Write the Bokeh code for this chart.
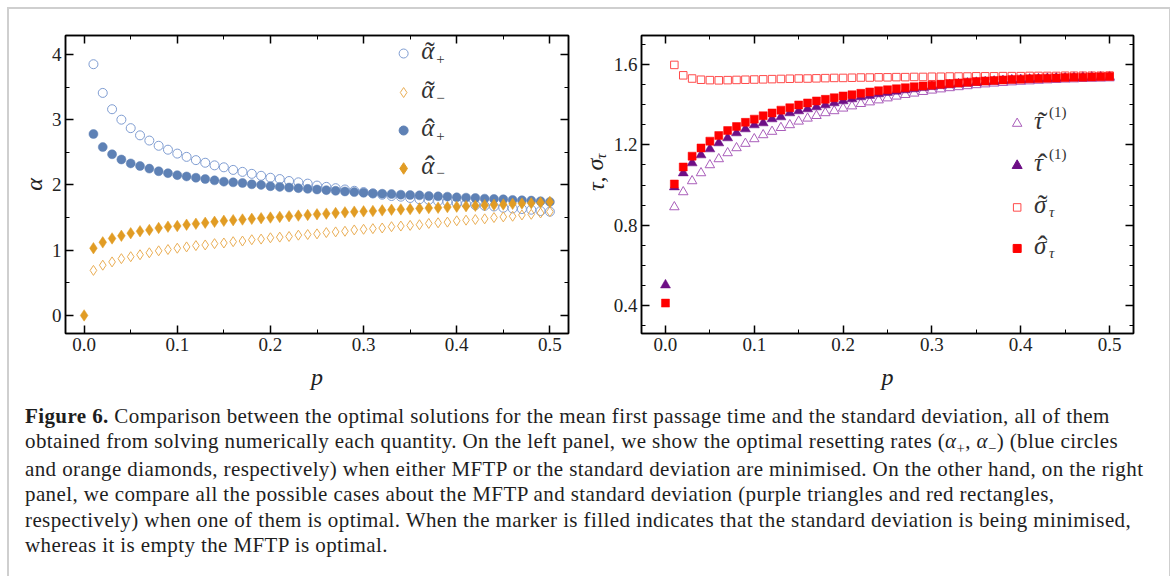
from bokeh.plotting import figure
from bokeh.models import (LinearAxis, FixedTicker, Label, Div, Range1d,
                          CustomJSTickFormatter)
from bokeh.layouts import column, row
from bokeh.embed import file_html
from bokeh.resources import INLINE

# ---------------- data ----------------
P0 = [0.00]
P = [0.01, 0.02, 0.03, 0.04, 0.05, 0.06, 0.07, 0.08, 0.09, 0.10,
     0.11, 0.12, 0.13, 0.14, 0.15, 0.16, 0.17, 0.18, 0.19, 0.20,
     0.21, 0.22, 0.23, 0.24, 0.25, 0.26, 0.27, 0.28, 0.29, 0.30,
     0.31, 0.32, 0.33, 0.34, 0.35, 0.36, 0.37, 0.38, 0.39, 0.40,
     0.41, 0.42, 0.43, 0.44, 0.45, 0.46, 0.47, 0.48, 0.49, 0.50]

# left panel
alpha_plus_tilde = [3.85, 3.41, 3.16, 3.00, 2.87, 2.76, 2.68, 2.60, 2.54, 2.48,
                    2.43, 2.38, 2.34, 2.30, 2.27, 2.23, 2.20, 2.17, 2.14, 2.11,
                    2.09, 2.06, 2.04, 2.02, 1.99, 1.97, 1.95, 1.93, 1.91, 1.89,
                    1.87, 1.85, 1.83, 1.82, 1.80, 1.78, 1.77, 1.75, 1.74, 1.72,
                    1.71, 1.69, 1.68, 1.67, 1.65, 1.64, 1.63, 1.62, 1.60, 1.59]
alpha_minus_tilde = [0.69, 0.77, 0.82, 0.87, 0.90, 0.93, 0.96, 0.99, 1.01, 1.03,
                     1.05, 1.07, 1.08, 1.10, 1.11, 1.13, 1.14, 1.16, 1.17, 1.19,
                     1.20, 1.21, 1.23, 1.24, 1.25, 1.27, 1.28, 1.29, 1.31, 1.32,
                     1.33, 1.34, 1.36, 1.37, 1.38, 1.39, 1.41, 1.42, 1.43, 1.45,
                     1.46, 1.47, 1.48, 1.50, 1.51, 1.52, 1.54, 1.55, 1.57, 1.59]
alpha_plus_hat = [2.78, 2.58, 2.47, 2.39, 2.33, 2.29, 2.25, 2.21, 2.18, 2.15,
                  2.13, 2.11, 2.09, 2.07, 2.05, 2.04, 2.03, 2.01, 2.00, 1.98,
                  1.97, 1.96, 1.95, 1.94, 1.93, 1.92, 1.91, 1.90, 1.89, 1.88,
                  1.87, 1.865, 1.86, 1.85, 1.845, 1.84, 1.83, 1.825, 1.82, 1.81,
                  1.805, 1.80, 1.79, 1.785, 1.78, 1.77, 1.765, 1.76, 1.75, 1.74]
alpha_minus_hat_p0 = [0.0]
alpha_minus_hat = [1.03, 1.12, 1.18, 1.22, 1.26, 1.29, 1.31, 1.34, 1.36, 1.37,
                   1.39, 1.405, 1.42, 1.435, 1.45, 1.46, 1.47, 1.48, 1.49, 1.50,
                   1.51, 1.52, 1.53, 1.54, 1.55, 1.56, 1.57, 1.58, 1.59, 1.595,
                   1.60, 1.61, 1.62, 1.625, 1.63, 1.64, 1.645, 1.65, 1.66, 1.667,
                   1.675, 1.68, 1.69, 1.695, 1.70, 1.71, 1.715, 1.72, 1.73, 1.74]

# right panel
tau_tilde = [0.89, 0.965, 1.02, 1.06, 1.10, 1.13, 1.16, 1.185, 1.207, 1.23,
             1.25, 1.267, 1.286, 1.30, 1.318, 1.333, 1.346, 1.36, 1.37, 1.383,
             1.394, 1.406, 1.414, 1.424, 1.434, 1.443, 1.451, 1.458, 1.466, 1.473,
             1.479, 1.485, 1.49, 1.495, 1.50, 1.504, 1.508, 1.511, 1.514, 1.517,
             1.519, 1.522, 1.524, 1.526, 1.528, 1.529, 1.531, 1.532, 1.533, 1.534]
tau_hat_p0 = [0.50]
tau_hat = [0.99, 1.06, 1.11, 1.15, 1.18, 1.21, 1.235, 1.26, 1.28, 1.30,
           1.31, 1.33, 1.34, 1.36, 1.37, 1.38, 1.39, 1.40, 1.41, 1.42,
           1.43, 1.44, 1.447, 1.455, 1.462, 1.468, 1.475, 1.48, 1.486, 1.491,
           1.496, 1.50, 1.504, 1.508, 1.512, 1.515, 1.518, 1.521, 1.524, 1.526,
           1.528, 1.530, 1.532, 1.534, 1.535, 1.537, 1.538, 1.539, 1.540, 1.541]
sigma_tilde = [1.60, 1.548, 1.532, 1.526, 1.524, 1.523, 1.524, 1.525, 1.526, 1.527,
               1.528, 1.529, 1.530, 1.531, 1.532, 1.532, 1.533, 1.534, 1.535, 1.535,
               1.536, 1.537, 1.537, 1.538, 1.538, 1.539, 1.539, 1.540, 1.540, 1.541,
               1.541, 1.542, 1.542, 1.542, 1.543, 1.543, 1.543, 1.544, 1.544, 1.544,
               1.545, 1.545, 1.545, 1.545, 1.546, 1.546, 1.546, 1.546, 1.546, 1.547]
sigma_hat_p0 = [0.41]
sigma_hat = [1.005, 1.09, 1.144, 1.185, 1.219, 1.247, 1.272, 1.292, 1.313, 1.329,
             1.346, 1.36, 1.374, 1.386, 1.40, 1.41, 1.42, 1.428, 1.436, 1.445,
             1.451, 1.458, 1.465, 1.471, 1.476, 1.481, 1.486, 1.491, 1.495, 1.499,
             1.503, 1.507, 1.51, 1.514, 1.517, 1.52, 1.522, 1.525, 1.527, 1.529,
             1.531, 1.532, 1.534, 1.535, 1.537, 1.538, 1.539, 1.54, 1.541, 1.542]

X_TICKS = [0.0, 0.1, 0.2, 0.3, 0.4, 0.5]
X_TICK_LABELS = ["0.0", "0.1", "0.2", "0.3", "0.4", "0.5"]
X_MINOR = [0.05, 0.15, 0.25, 0.35, 0.45]
L_Y_TICKS = [0, 1, 2, 3, 4]
L_Y_MINOR = [0.5, 1.5, 2.5, 3.5]
R_Y_TICKS = [0.4, 0.8, 1.2, 1.6]
R_Y_MINOR = [0.3, 0.5, 0.6, 0.7, 0.9, 1.0, 1.1, 1.3, 1.4, 1.5, 1.7]

# legend texts: base symbol, accent, script (sub or sup)
LEFT_LEGEND_BASE = ["\u03b1", "\u03b1", "\u03b1", "\u03b1"]
LEFT_LEGEND_ACCENT = ["\u02dc", "\u02dc", "\u02c6", "\u02c6"]
LEFT_LEGEND_SUB = ["+", "\u2212", "+", "\u2212"]
RIGHT_LEGEND_BASE = ["\u03c4", "\u03c4", "\u03c3", "\u03c3"]
RIGHT_LEGEND_ACCENT = ["\u02dc", "\u02c6", "\u02dc", "\u02c6"]
RIGHT_LEGEND_SCRIPT = ["(1)", "(1)", "\u03c4", "\u03c4"]

SERIF = "Liberation Serif"
TXT = "#222222"

BLUE = "#5E81B5"
BLUE_OPEN = "#7F9DD2"
ORANGE = "#E19C24"
ORANGE_OPEN = "#EAAE55"
PURPLE = "#6E0F86"
PURPLE_OPEN = "#A95DBA"
RED = "#FF0000"
RED_OPEN = "#FF4A4A"

FIG_H = 387


def style_axis(ax, ticks, minor, labels=True):
    ax.ticker = FixedTicker(ticks=ticks, minor_ticks=minor)
    ax.major_tick_in = 8
    ax.major_tick_out = 0
    ax.minor_tick_in = 4
    ax.minor_tick_out = 0
    ax.major_tick_line_width = 1.5
    ax.minor_tick_line_width = 1
    ax.major_tick_line_color = "black"
    ax.minor_tick_line_color = "black"
    ax.axis_line_color = "black"
    ax.axis_line_width = 1.5
    ax.major_label_text_font = SERIF
    ax.major_label_text_font_size = "19px"
    ax.major_label_text_color = TXT
    ax.major_label_standoff = 4
    if not labels:
        ax.formatter = CustomJSTickFormatter(code="return ''")


def make_fig(xr, yr, fw, mbl, mbr):
    p = figure(frame_width=fw, frame_height=298, x_range=Range1d(*xr), y_range=Range1d(*yr),
               output_backend="svg", toolbar_location=None,
               min_border_left=mbl, min_border_right=mbr,
               min_border_top=26, min_border_bottom=63)
    p.grid.visible = False
    p.outline_line_color = "black"
    p.outline_line_width = 1.5
    p.background_fill_color = "white"
    p.border_fill_color = "white"
    return p


def accent_label(p, x, y, base, accent, script, sub, italic_script):
    p.add_layout(Label(x=x, y=y, y_offset=3, text=base, text_font=SERIF,
                       text_font_style="italic", text_font_size="25px",
                       text_baseline="middle", text_color="#333333"))
    p.add_layout(Label(x=x, y=y, x_offset=8.5, y_offset=2, text=accent, text_font=SERIF,
                       text_font_size="29px", text_align="center", text_baseline="middle",
                       text_color="#333333"))
    p.add_layout(Label(x=x, y=y, x_offset=15, y_offset=(-5 if sub else 12), text=script,
                       text_font=SERIF, text_font_style=("italic" if italic_script else "normal"),
                       text_font_size="15px", text_baseline="middle", text_color="#333333"))


# ---------------- left panel ----------------
p1 = make_fig((-0.02, 0.52), (-0.277, 4.29), 503, 56, 10)
style_axis(p1.xaxis[0], X_TICKS, X_MINOR)
style_axis(p1.yaxis[0], L_Y_TICKS, L_Y_MINOR)
p1.xaxis[0].major_label_overrides = {t: s for t, s in zip(X_TICKS, X_TICK_LABELS)}
p1.xaxis[0].axis_label = "p"
p1.yaxis[0].axis_label = "\u03b1"
for ax in (p1.xaxis[0], p1.yaxis[0]):
    ax.axis_label_text_font = SERIF
    ax.axis_label_text_font_style = "italic"
    ax.axis_label_text_font_size = "24px"
    ax.axis_label_text_color = TXT
p1.xaxis[0].axis_label_standoff = 10
p1.yaxis[0].axis_label_standoff = 2
top1 = LinearAxis()
style_axis(top1, X_TICKS, X_MINOR, labels=False)
p1.add_layout(top1, "above")
right1 = LinearAxis()
style_axis(right1, L_Y_TICKS, L_Y_MINOR, labels=False)
p1.add_layout(right1, "right")

p1.scatter(P, alpha_plus_tilde, marker="circle", size=9, fill_color=None,
           line_color=BLUE_OPEN, line_width=1)
p1.scatter(P, alpha_minus_tilde, marker="diamond", size=10, fill_color=None,
           line_color=ORANGE_OPEN, line_width=1)
p1.scatter(P, alpha_plus_hat, marker="circle", size=9, fill_color=BLUE,
           line_color=BLUE, line_width=0.5)
p1.scatter(P0 + P, alpha_minus_hat_p0 + alpha_minus_hat, marker="diamond", size=11.5,
           fill_color=ORANGE, line_color=ORANGE, line_width=0.5)

LX1, LTX1 = 0.343, 0.362
LY1 = [4.014, 3.416, 2.834, 2.252]
leg_styles1 = [("circle", None, BLUE_OPEN, 9), ("diamond", None, ORANGE_OPEN, 10),
               ("circle", BLUE, BLUE, 9), ("diamond", ORANGE, ORANGE, 11.5)]
for (mk, fc, lc, sz), yy, b, a, s in zip(leg_styles1, LY1, LEFT_LEGEND_BASE,
                                         LEFT_LEGEND_ACCENT, LEFT_LEGEND_SUB):
    p1.scatter([LX1], [yy], marker=mk, size=sz, fill_color=fc, line_color=lc, line_width=1)
    accent_label(p1, LTX1, yy, b, a, s, True, False)

# ---------------- y label strip for right panel ----------------
STRIP_W = 32
ylab = figure(width=STRIP_W, height=FIG_H, x_range=Range1d(0, STRIP_W),
              y_range=Range1d(0, FIG_H),
              output_backend="svg", toolbar_location=None, x_axis_location=None,
              y_axis_location=None, min_border_left=0, min_border_right=0,
              min_border_top=0, min_border_bottom=0)
ylab.grid.visible = False
ylab.outline_line_color = None
ylab.add_layout(Label(x=17, y=FIG_H - 181, text="\u03c4, \u03c3", angle=1.5708,
                      text_font=SERIF, text_font_style="italic", text_font_size="24px",
                      text_align="center", text_baseline="middle", text_color=TXT))
ylab.add_layout(Label(x=22, y=FIG_H - 157, text="\u03c4", angle=1.5708,
                      text_font=SERIF, text_font_style="italic", text_font_size="15px",
                      text_align="center", text_baseline="middle", text_color=TXT))

# ---------------- right panel ----------------
p2 = make_fig((-0.027, 0.527), (0.258, 1.747), 492, 30, 29)
style_axis(p2.xaxis[0], X_TICKS, X_MINOR)
style_axis(p2.yaxis[0], R_Y_TICKS, R_Y_MINOR)
p2.xaxis[0].major_label_overrides = {t: s for t, s in zip(X_TICKS, X_TICK_LABELS)}
p2.xaxis[0].axis_label = "p"
p2.xaxis[0].axis_label_text_font = SERIF
p2.xaxis[0].axis_label_text_font_style = "italic"
p2.xaxis[0].axis_label_text_font_size = "24px"
p2.xaxis[0].axis_label_text_color = TXT
p2.xaxis[0].axis_label_standoff = 10
top2 = LinearAxis()
style_axis(top2, X_TICKS, X_MINOR, labels=False)
p2.add_layout(top2, "above")
right2 = LinearAxis()
style_axis(right2, R_Y_TICKS, R_Y_MINOR, labels=False)
p2.add_layout(right2, "right")

p2.scatter(P, tau_tilde, marker="triangle", size=9.5, fill_color=None,
           line_color=PURPLE_OPEN, line_width=1)
p2.scatter(P0 + P, tau_hat_p0 + tau_hat, marker="triangle", size=10,
           fill_color=PURPLE, line_color=PURPLE, line_width=0.5)
p2.scatter(P, sigma_tilde, marker="square", size=7.5, fill_color=None,
           line_color=RED_OPEN, line_width=1)
p2.scatter(P0 + P, sigma_hat_p0 + sigma_hat, marker="square", size=8,
           fill_color=RED, line_color=RED, line_width=0.5)

LX2, LTX2 = 0.396, 0.415
LY2 = [1.307, 1.097, 0.888, 0.683]
leg_styles2 = [("triangle", None, PURPLE_OPEN, 9.5), ("triangle", PURPLE, PURPLE, 10),
               ("square", None, RED_OPEN, 7.5), ("square", RED, RED, 8)]
for i, ((mk, fc, lc, sz), yy, b, a, s) in enumerate(zip(leg_styles2, LY2, RIGHT_LEGEND_BASE,
                                                        RIGHT_LEGEND_ACCENT,
                                                        RIGHT_LEGEND_SCRIPT)):
    p2.scatter([LX2], [yy], marker=mk, size=sz, fill_color=fc, line_color=lc, line_width=1)
    accent_label(p2, LTX2, yy, b, a, s, i >= 2, i >= 2)

# ---------------- caption ----------------
caption_lines = [
    "<b>Figure 6.</b> Comparison between the optimal solutions for the mean first passage time and the standard deviation, all of them",
    "obtained from solving numerically each quantity. On the left panel, we show the optimal resetting rates "
    "(<i>\u03b1</i><span style='font-size:70%;position:relative;top:0.3em'>+</span>, "
    "<i>\u03b1</i><span style='font-size:70%;position:relative;top:0.3em'>\u2212</span>) (blue circles",
    "and orange diamonds, respectively) when either MFTP or the standard deviation are minimised. On the other hand, on the right",
    "panel, we compare all the possible cases about the MFTP and standard deviation (purple triangles and red rectangles,",
    "respectively) when one of them is optimal. When the marker is filled indicates that the standard deviation is being minimised,",
    "whereas it is empty the MFTP is optimal.",
]
caption_html = ("<div style=\"font-family:'Liberation Serif',serif; font-size:21px; "
                "letter-spacing:0.4px; line-height:25.4px; color:#1e1e1e; white-space:nowrap; "
                "padding-left:11px; padding-top:3px;\">" + "<br>".join(caption_lines) + "</div>")
caption = Div(text=caption_html, width=1150, height=170)

layout = column(row(p1, ylab, p2), caption,
                styles={"margin-left": "7px", "margin-top": "7px",
                        "border-left": "2px solid #cfcfcf", "border-top": "2px solid #cfcfcf",
                        "border-right": "2px solid #cfcfcf"})

open("out.html", "w").write(file_html(layout, INLINE))
